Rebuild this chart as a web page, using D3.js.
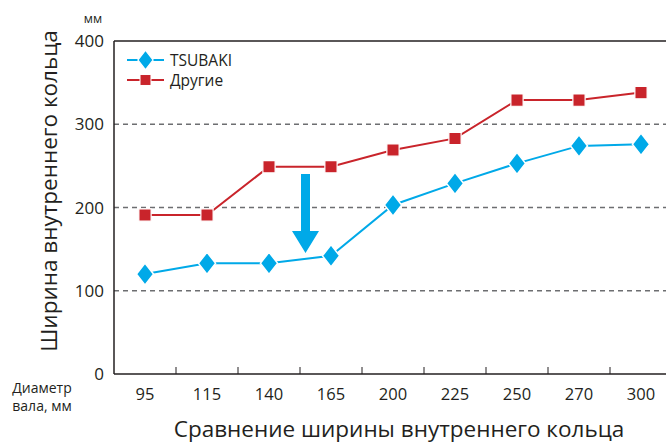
<!DOCTYPE html>
<html lang="ru">
<head>
    <meta charset="utf-8">
    <title></title>
    <script src="https://d3js.org/d3.v7.min.js"></script>
    <style type="text/css">
        body{
            margin: 0;
            background: #fff;
        }
        svg{
            font-family: "Open Sans", "Noto Sans", sans-serif;
        }
        .lbl{
            fill: #231f20;
        }
    </style>
</head>
<body>
    <svg id="chart" width="666" height="445"></svg>

    <script type="text/javascript">

        const diameters = ['95','115','140','165','200','225','250','270','300'];
        const tsubaki = [120,133,133,142,203,229,253,274,276];
        const others = [191,191,249,249,269,283,329,329,338];
        const yTicks = [0,100,200,300,400];

        const svg = d3.select("#chart");
        const plotL = 114, plotR = 672, plotT = 41, plotB = 374;
        const blue = "#00a9e8", red = "#c9242b";

        const x = d3.scaleBand()
            .domain(diameters)
            .range([plotL, plotR]);

        const y = d3.scaleLinear()
            .domain([0, 400])
            .range([plotB, plotT]);

        // grid
        svg.selectAll(".grid")
            .data(yTicks.filter(d => d > 0 && d < 400))
            .enter()
            .append("line")
            .attr("x1", plotL)
            .attr("x2", 666)
            .attr("y1", d => y(d))
            .attr("y2", d => y(d))
            .attr("stroke", "#6d6e71")
            .attr("stroke-width", 1.3)
            .attr("stroke-dasharray", "5,4");

        // frame top
        svg.append("line")
            .attr("x1", plotL).attr("x2", 666)
            .attr("y1", y(400)).attr("y2", y(400))
            .attr("stroke", "#231f20").attr("stroke-width", 1.5);

        // axes
        svg.append("line")
            .attr("x1", plotL).attr("x2", plotL)
            .attr("y1", y(400)).attr("y2", y(0))
            .attr("stroke", "#231f20").attr("stroke-width", 1.5);
        svg.append("line")
            .attr("x1", plotL).attr("x2", 666)
            .attr("y1", y(0)).attr("y2", y(0))
            .attr("stroke", "#231f20").attr("stroke-width", 1.5);

        svg.selectAll(".xtick")
            .data(diameters.slice(1))
            .enter()
            .append("line")
            .attr("x1", d => x(d))
            .attr("x2", d => x(d))
            .attr("y1", y(0))
            .attr("y2", y(0) - 7)
            .attr("stroke", "#231f20");

        svg.selectAll(".xlbl")
            .data(diameters)
            .enter()
            .append("text")
            .attr("class", "lbl")
            .attr("x", d => x(d) + x.bandwidth()/2)
            .attr("y", 400)
            .attr("text-anchor", "middle")
            .style("font-size", "16.5px")
            .text(d => d);

        svg.selectAll(".ylbl")
            .data(yTicks)
            .enter()
            .append("text")
            .attr("class", "lbl")
            .attr("x", 104)
            .attr("y", d => y(d) + 6)
            .attr("text-anchor", "end")
            .style("font-size", "17px")
            .text(d => d);

        svg.append("text").attr("class", "lbl")
            .attr("x", 93).attr("y", 23)
            .attr("text-anchor", "middle")
            .style("font-size", "12.5px")
            .text("мм");

        svg.append("text").attr("class", "lbl")
            .attr("transform", "translate(57,191) rotate(-90)")
            .attr("text-anchor", "middle")
            .style("font-size", "22.5px")
            .text("Ширина внутреннего кольца");

        svg.append("text").attr("class", "lbl")
            .attr("x", 42).attr("y", 393)
            .attr("text-anchor", "middle")
            .style("font-size", "14px")
            .text("Диаметр");
        svg.append("text").attr("class", "lbl")
            .attr("x", 42).attr("y", 411)
            .attr("text-anchor", "middle")
            .style("font-size", "14px")
            .text("вала, мм");

        svg.append("text").attr("class", "lbl")
            .attr("x", 399).attr("y", 437)
            .attr("text-anchor", "middle")
            .style("font-size", "22.5px")
            .text("Сравнение ширины внутреннего кольца");

        // arrow
        svg.append("path")
            .attr("d", "M301,174 L310,174 L310,231 L319,231 L305.5,253 L292,231 L301,231 Z")
            .attr("fill", blue);

        const cx = d => x(d) + x.bandwidth()/2;
        const line = d3.line()
            .x((d, i) => cx(diameters[i]))
            .y(d => y(d));

        function series(vals, color, shape){
            svg.append("path")
                .datum(vals)
                .attr("d", line)
                .attr("fill", "none")
                .attr("stroke", "#fff")
                .attr("stroke-width", 5);
            svg.append("path")
                .datum(vals)
                .attr("d", line)
                .attr("fill", "none")
                .attr("stroke", color)
                .attr("stroke-width", 2);
            svg.selectAll(null)
                .data(vals)
                .enter()
                .append("path")
                .attr("d", d3.symbol().type(shape === "square" ? d3.symbolSquare : d3.symbolDiamond)
                    .size(shape === "square" ? 150 : 140))
                .attr("transform", (d, i) => "translate(" + cx(diameters[i]) + "," + y(d) + ")" + (shape === "square" ? "" : " scale(1.35,1)"))
                .attr("fill", color)
                .attr("stroke", "#fff")
                .attr("stroke-width", 1.2);
        }

        series(others, red, "square");
        series(tsubaki, blue, "diamond");

        // legend
        const legend = [["TSUBAKI", blue, "diamond"], ["Другие", red, "square"]];
        legend.forEach((l, i) => {
            const ly = 60 + i * 20;
            svg.append("line")
                .attr("x1", 127).attr("x2", 164)
                .attr("y1", ly).attr("y2", ly)
                .attr("stroke", l[1]).attr("stroke-width", 2);
            svg.append("path")
                .attr("d", d3.symbol().type(l[2] === "square" ? d3.symbolSquare : d3.symbolDiamond)
                    .size(l[2] === "square" ? 120 : 110))
                .attr("transform", "translate(145.5," + ly + ")" + (l[2] === "square" ? "" : " scale(1.35,1)"))
                .attr("fill", l[1])
                .attr("stroke", "#fff")
                .attr("stroke-width", 1);
            svg.append("text").attr("class", "lbl")
                .attr("x", 170).attr("y", ly + 5.5)
                .style("font-size", "15.5px")
                .text(l[0]);
        });
    </script>
</body>
</html>
